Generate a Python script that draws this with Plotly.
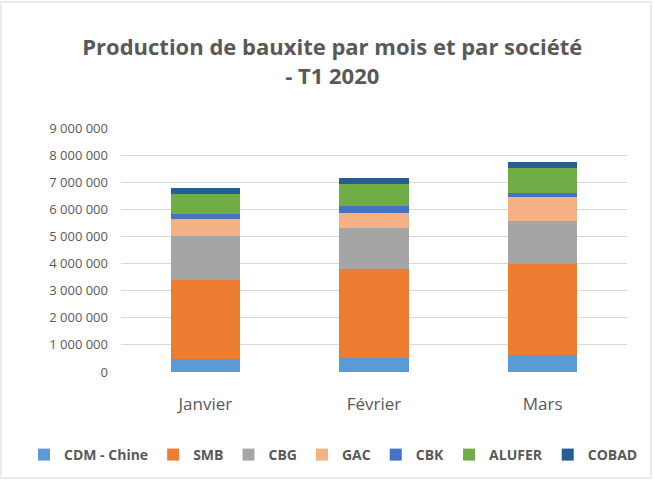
import plotly.graph_objects as go

months = ["Janvier", "Février", "Mars"]
cdm_chine = [490000, 530000, 610000]
smb = [2920000, 3280000, 3380000]
cbg = [1610000, 1520000, 1580000]
gac = [610000, 530000, 880000]
cbk = [200000, 280000, 170000]
alufer = [720000, 780000, 890000]
cobad = [230000, 230000, 230000]

series = [
    ("CDM - Chine", cdm_chine, "#5b9bd5"),
    ("SMB", smb, "#ed7d31"),
    ("CBG", cbg, "#a5a5a5"),
    ("GAC", gac, "#f4b183"),
    ("CBK", cbk, "#4472c4"),
    ("ALUFER", alufer, "#70ad47"),
    ("COBAD", cobad, "#255e91"),
]

tickvals = [i * 1000000 for i in range(10)]
ticktext = ["0"] + [f"{i} 000 000" for i in range(1, 10)]

fig = go.Figure()
for name, vals, col in series:
    fig.add_trace(go.Bar(name=name, x=months, y=vals, marker=dict(color=col, line=dict(width=0))))

font_fam = "'Open Sans', sans-serif"
fig.update_layout(
    barmode="stack",
    bargap=0.59,
    width=654, height=481,
    paper_bgcolor="white", plot_bgcolor="white",
    margin=dict(l=121, r=27, t=128, b=109, autoexpand=False),
    title=dict(
        text="<b>Production de bauxite par mois et par société<br>- T1 2020</b>",
        x=0.508, xanchor="center", xref="container", y=1 - 55 / 481, yanchor="top",
        font=dict(family=font_fam, size=22, color="#595959"),
    ),
    font=dict(family=font_fam, color="#595959"),
    xaxis=dict(tickfont=dict(size=17, color="#595959"), showgrid=False, showline=False, ticks="",
               ticklabelstandoff=20),
    yaxis=dict(
        range=[0, 9000000], tickvals=tickvals, ticktext=ticktext,
        tickfont=dict(size=13, color="#595959"), gridcolor="#d9d9d9", gridwidth=1,
        zeroline=False, showline=False, ticks="", ticklabelstandoff=12,
    ),
    legend=dict(
        orientation="h", xref="paper", yref="paper",
        x=(24 - 121) / 506, xanchor="left", y=(372 - 455) / 244, yanchor="middle",
        font=dict(size=14, color="#595959", family=font_fam, weight="bold"), traceorder="normal",
        itemwidth=30,
    ),
    shapes=[dict(type="rect", xref="paper", yref="paper",
                 x0=-120/506, x1=1 + 24/506, y0=-106/244, y1=1 + 126/244,
                 line=dict(color="#d9d9d9", width=1))],
)

fig.write_html("out.html", config={"displayModeBar": False},
               post_script="document.body.style.margin='0';")
